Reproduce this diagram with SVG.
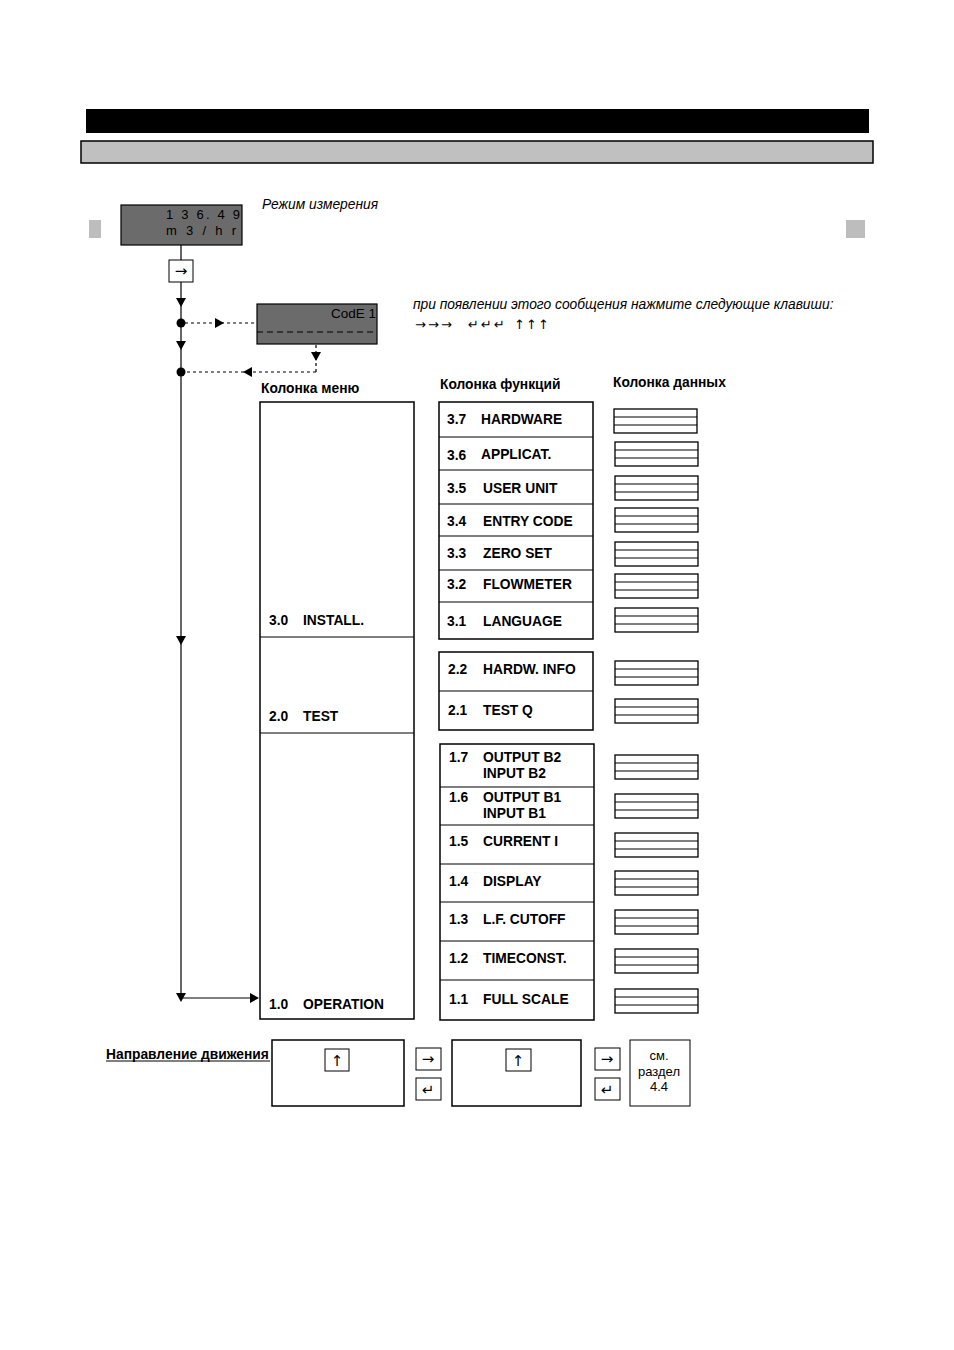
<svg xmlns="http://www.w3.org/2000/svg" width="954" height="1350" viewBox="0 0 954 1350">
<defs>
<style>
.t{font-family:"Liberation Sans",Arial,sans-serif;fill:#000}
.b{font-weight:bold;font-size:13.8px}
.i{font-style:italic;font-size:13.8px}
.box{fill:#fff;stroke:#000;stroke-width:1.5}
.dk{fill:#6b6b6b;stroke:#000;stroke-width:1.2}
.ln{stroke:#000;stroke-width:1.2;fill:none}
.dot{stroke:#000;stroke-width:1.2;fill:none;stroke-dasharray:3 3}
.key{fill:#fff;stroke:#000;stroke-width:1}
.sym{font-family:"DejaVu Sans",sans-serif;font-size:15px;fill:#000}
.sm{font-size:13px}
.db{fill:#fff;stroke:#000;stroke-width:1.3}
</style>
<clipPath id="dclip"><rect x="121" y="205" width="120" height="40"/></clipPath>
<g id="dbox"><rect class="db" x="0" y="0" width="83" height="24"/><line class="ln" x1="0" y1="8" x2="83" y2="8"/><line class="ln" x1="0" y1="16" x2="83" y2="16"/></g>
</defs>
<rect width="954" height="1350" fill="#fff"/>

<g id="header">
<rect x="86" y="109" width="783" height="24" fill="#000"/>
<rect x="81" y="141" width="792" height="22" fill="#c0c0c0" stroke="#000" stroke-width="1.5"/>
<rect x="89" y="220" width="12" height="18" fill="#bdbdbd"/>
<rect x="846" y="220" width="19" height="18" fill="#bdbdbd"/>
</g>

<g id="connectors">
<line class="ln" x1="181" y1="245" x2="181" y2="260"/>
<line class="ln" x1="181" y1="282" x2="181" y2="998"/>
<line class="ln" x1="181" y1="998" x2="257" y2="998"/>
<path d="M176,298 L186,298 L181,307 z" fill="#000"/>
<path d="M176,341 L186,341 L181,350 z" fill="#000"/>
<path d="M176,636 L186,636 L181,645 z" fill="#000"/>
<path d="M176,993 L186,993 L181,1002 z" fill="#000"/>
<path d="M250,993 L259,998 L250,1003 z" fill="#000"/>
<circle cx="181" cy="323" r="4.5" fill="#000"/>
<circle cx="181" cy="372" r="4.5" fill="#000"/>
<line class="dot" x1="185" y1="323" x2="257" y2="323"/>
<path d="M215,318 L224,323 L215,328 z" fill="#000"/>
<line class="dot" x1="316" y1="345" x2="316" y2="372"/>
<path d="M311,352 L321,352 L316,361 z" fill="#000"/>
<line class="dot" x1="316" y1="372" x2="185" y2="372"/>
<path d="M252,367 L243,372 L252,377 z" fill="#000"/>
</g>

<g id="display">
<rect class="dk" x="121" y="205" width="121" height="40"/>
<g clip-path="url(#dclip)">
<text class="t" x="166" y="219" font-size="13" letter-spacing="2.2" xml:space="preserve">1 3 6. 4 9</text>
<text class="t" x="166" y="235" font-size="13" letter-spacing="2.8" xml:space="preserve">m 3 / h r</text>
</g>
<text class="t i" x="262" y="209">Режим измерения</text>
</g>

<g id="key-right">
<rect class="key" x="169" y="260" width="24" height="22"/>
<text class="sym" x="181" y="276" text-anchor="middle">→</text>
</g>

<g id="code">
<rect class="dk" x="257" y="304" width="120" height="40"/>
<line x1="257" y1="332" x2="377" y2="332" stroke="#000" stroke-width="1" stroke-dasharray="6 4"/>
<text class="t" x="376" y="318" font-size="13.5" text-anchor="end">CodE 1</text>
<text class="t i" x="413" y="309">при появлении этого сообщения нажмите следующие клавиши:</text>
<text class="sym sm" y="329" x="415 428 441 468 481 494 514 526 538">→→→↵↵↵↑↑↑</text>
</g>

<g id="headers">
<text class="t b" x="261" y="393">Колонка меню</text>
<text class="t b" x="440" y="389">Колонка функций</text>
<text class="t b" x="613" y="387">Колонка данных</text>
</g>

<g id="menu">
<rect class="box" x="260" y="402" width="154" height="617"/>
<line class="ln" x1="260" y1="637" x2="414" y2="637" stroke-width="1.5"/>
<line class="ln" x1="260" y1="733" x2="414" y2="733"/>
<text class="t b" x="269" y="625">3.0</text><text class="t b" x="303" y="625">INSTALL.</text>
<text class="t b" x="269" y="721">2.0</text><text class="t b" x="303" y="721">TEST</text>
<text class="t b" x="269" y="1009">1.0</text><text class="t b" x="303" y="1009">OPERATION</text>
</g>

<g id="func3">
<rect class="box" x="439" y="402" width="154" height="237"/>
<line class="ln" x1="439" y1="437" x2="593" y2="437"/>
<line class="ln" x1="439" y1="470" x2="593" y2="470"/>
<line class="ln" x1="439" y1="504" x2="593" y2="504"/>
<line class="ln" x1="439" y1="536" x2="593" y2="536"/>
<line class="ln" x1="439" y1="570" x2="593" y2="570"/>
<line class="ln" x1="439" y1="602" x2="593" y2="602"/>
<text class="t b" x="447" y="424">3.7</text><text class="t b" x="481" y="424">HARDWARE</text>
<text class="t b" x="447" y="460">3.6</text><text class="t b" x="481" y="459">APPLICAT.</text>
<text class="t b" x="447" y="493">3.5</text><text class="t b" x="483" y="493">USER UNIT</text>
<text class="t b" x="447" y="526">3.4</text><text class="t b" x="483" y="526">ENTRY CODE</text>
<text class="t b" x="447" y="558">3.3</text><text class="t b" x="483" y="558">ZERO SET</text>
<text class="t b" x="447" y="589">3.2</text><text class="t b" x="483" y="589">FLOWMETER</text>
<text class="t b" x="447" y="626">3.1</text><text class="t b" x="483" y="626">LANGUAGE</text>
</g>

<g id="func2">
<rect class="box" x="439" y="652" width="154" height="78"/>
<line class="ln" x1="439" y1="691" x2="593" y2="691"/>
<text class="t b" x="448" y="674">2.2</text><text class="t b" x="483" y="674">HARDW. INFO</text>
<text class="t b" x="448" y="715">2.1</text><text class="t b" x="483" y="715">TEST Q</text>
</g>

<g id="func1">
<rect class="box" x="440" y="744" width="154" height="276"/>
<line class="ln" x1="440" y1="787" x2="594" y2="787"/>
<line class="ln" x1="440" y1="825" x2="594" y2="825"/>
<line class="ln" x1="440" y1="864" x2="594" y2="864"/>
<line class="ln" x1="440" y1="902" x2="594" y2="902"/>
<line class="ln" x1="440" y1="941" x2="594" y2="941"/>
<line class="ln" x1="440" y1="980" x2="594" y2="980"/>
<text class="t b" x="449" y="762">1.7</text><text class="t b" x="483" y="762">OUTPUT B2</text>
<text class="t b" x="483" y="778">INPUT B2</text>
<text class="t b" x="449" y="802">1.6</text><text class="t b" x="483" y="802">OUTPUT B1</text>
<text class="t b" x="483" y="818">INPUT B1</text>
<text class="t b" x="449" y="846">1.5</text><text class="t b" x="483" y="846">CURRENT I</text>
<text class="t b" x="449" y="886">1.4</text><text class="t b" x="483" y="886">DISPLAY</text>
<text class="t b" x="449" y="924">1.3</text><text class="t b" x="483" y="924">L.F. CUTOFF</text>
<text class="t b" x="449" y="963">1.2</text><text class="t b" x="483" y="963">TIMECONST.</text>
<text class="t b" x="449" y="1004">1.1</text><text class="t b" x="483" y="1004">FULL SCALE</text>
</g>

<g id="data">
<use href="#dbox" x="614" y="409"/>
<use href="#dbox" x="615" y="442"/>
<use href="#dbox" x="615" y="476"/>
<use href="#dbox" x="615" y="508"/>
<use href="#dbox" x="615" y="542"/>
<use href="#dbox" x="615" y="574"/>
<use href="#dbox" x="615" y="608"/>
<use href="#dbox" x="615" y="661"/>
<use href="#dbox" x="615" y="699"/>
<use href="#dbox" x="615" y="755"/>
<use href="#dbox" x="615" y="794"/>
<use href="#dbox" x="615" y="833"/>
<use href="#dbox" x="615" y="871"/>
<use href="#dbox" x="615" y="910"/>
<use href="#dbox" x="615" y="949"/>
<use href="#dbox" x="615" y="989"/>
</g>

<g id="legend">
<text class="t b" x="106" y="1059">Направление движения</text>
<line x1="106" y1="1061" x2="270" y2="1061" stroke="#000" stroke-width="1"/>
<rect class="box" x="272" y="1040" width="132" height="66"/>
<rect class="key" x="325" y="1049" width="24" height="22"/>
<text class="sym" x="337" y="1066" text-anchor="middle">↑</text>
<rect class="key" x="416" y="1048" width="25" height="22"/>
<text class="sym" x="428" y="1064" text-anchor="middle">→</text>
<rect class="key" x="416" y="1078" width="25" height="22"/>
<text class="sym" x="428" y="1095" text-anchor="middle">↵</text>
<rect class="box" x="452" y="1040" width="129" height="66"/>
<rect class="key" x="506" y="1049" width="25" height="22"/>
<text class="sym" x="518" y="1066" text-anchor="middle">↑</text>
<rect class="key" x="595" y="1048" width="25" height="22"/>
<text class="sym" x="607" y="1064" text-anchor="middle">→</text>
<rect class="key" x="595" y="1078" width="25" height="22"/>
<text class="sym" x="607" y="1095" text-anchor="middle">↵</text>
<rect class="key" x="630" y="1040" width="60" height="66"/>
<text class="t" x="659" y="1060" font-size="13" text-anchor="middle">см.</text>
<text class="t" x="659" y="1076" font-size="13" text-anchor="middle">раздел</text>
<text class="t" x="659" y="1091" font-size="13" text-anchor="middle">4.4</text>
</g>
</svg>
